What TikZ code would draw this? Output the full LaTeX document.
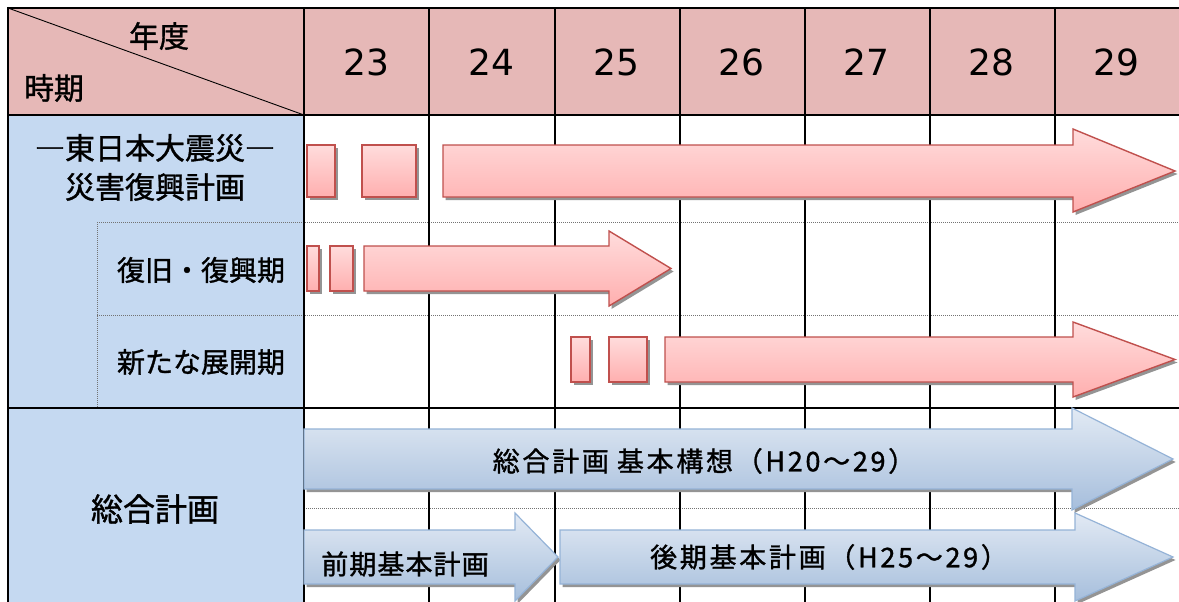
\documentclass[tikz,border=0pt]{standalone}
\usepackage{fontspec}
\setmainfont[FakeBold=1.2]{Noto Sans CJK JP}
\newfontfamily\jpwide[FakeBold=1.2,LetterSpace=10]{Noto Sans CJK JP}
\newfontfamily\jpmid[FakeBold=1.2,LetterSpace=4]{Noto Sans CJK JP}
\newfontfamily\numfont{DejaVu Sans}
\usetikzlibrary{shadows}
\definecolor{hdr}{HTML}{E6B8B7}
\definecolor{side}{HTML}{C5D9F1}
\definecolor{redline}{HTML}{C0504D}
\definecolor{redtop}{HTML}{FFDCDC}
\definecolor{redbot}{HTML}{FFAFAF}
\definecolor{blueline}{HTML}{95B3D7}
\definecolor{bluetop}{HTML}{E2EAF4}
\definecolor{bluebot}{HTML}{A6BEDC}
\begin{document}
\begin{tikzpicture}[x=1pt,y=-1pt,
  grid/.style={line width=2pt, black},
  dotline/.style={line width=0.9pt, black!55, dash pattern=on 1pt off 1pt},
  shade/.style={drop shadow={shadow xshift=2.5pt, shadow yshift=-3pt, fill=black!42, opacity=1}},
  redshape/.style={shade, draw=redline, line width=1.4pt, top color=redtop, bottom color=redbot},
  blueshape/.style={shade, draw=blueline, line width=1.2pt, top color=bluetop, bottom color=bluebot},
  lbl/.style={inner sep=0pt, font=\fontsize{30}{36}\selectfont},
  sublbl/.style={inner sep=0pt, font=\fontsize{28}{34}\selectfont},
  yearlbl/.style={inner sep=0pt, anchor=base, font=\numfont\fontsize{36}{42}\selectfont},
  arrowlbl/.style={inner sep=0pt, font=\jpwide\fontsize{27}{32}\selectfont}]
\useasboundingbox (0,0) rectangle (1179,602);
\fill[white] (0,0) rectangle (1179,602);
% fills
\fill[hdr] (8,8) rectangle (1185,115);
\fill[side] (8,115) rectangle (304,610);
% dotted lines
\draw[dotline] (97,222) -- (1185,222);
\draw[dotline] (97,315) -- (1185,315);
\draw[dotline] (97,222) -- (97,408);
\draw[dotline] (304,508) -- (1185,508);
% grid
\draw[grid] (7,8) -- (1185,8);
\draw[grid] (8,7) -- (8,610);
\draw[grid] (8,115) -- (1185,115);
\draw[grid] (8,408) -- (1185,408);
\foreach \x in {304,429,555,680,805,930,1055} {\draw[grid] (\x,8) -- (\x,610);}
\draw[line width=0.9pt] (8,8) -- (304,115);
% header text
\node[lbl] (nendo) at (159,36) {年度};
\node[lbl] (jiki) at (54,88) {時期};
\foreach \yr [count=\i from 0] in {23,24,25,26,27,28,29}
  {\node[yearlbl] (y\yr) at ({366.5+125*\i},75.5) {\yr};}
% left labels
\node[lbl] (shinsai) at (155,148) {―東日本大震災―};
\node[lbl] (saigai) at (155,187) {災害復興計画};
\node[sublbl] (fukkyu) at (201,270) {復旧・復興期};
\node[sublbl] (tenkai) at (201,362) {新たな展開期};
\node[font=\fontsize{32}{38}\selectfont, inner sep=0pt] (sogo) at (155,509) {総合計画};
% red row 1
\path[redshape] (307,145) rectangle (335,197);
\path[redshape] (362,145) rectangle (416,197);
\path[redshape] (443,145) -- (1073,145) -- (1073,129) -- (1175,171) -- (1073,212) -- (1073,197) -- (443,197) -- cycle;
% red row 2
\path[redshape] (307,246) rectangle (319,291);
\path[redshape] (330,246) rectangle (353,291);
\path[redshape] (364,246) -- (609,246) -- (609,231) -- (671,268.5) -- (609,306) -- (609,291) -- (364,291) -- cycle;
% red row 3
\path[redshape] (571,337) rectangle (590,382);
\path[redshape] (609,337) rectangle (647,382);
\path[redshape] (665,337) -- (1073,337) -- (1073,322) -- (1175,359.5) -- (1073,397) -- (1073,382) -- (665,382) -- cycle;
% blue arrows
\path[blueshape] (304,429) -- (1072,429) -- (1072,408) -- (1173,459) -- (1072,510) -- (1072,489) -- (304,489) -- cycle;
\path[blueshape] (304,530) -- (515,530) -- (515,513) -- (558,557) -- (515,601) -- (515,584) -- (304,584) -- cycle;
\path[blueshape] (560,530) -- (1075,530) -- (1075,513) -- (1173,557) -- (1075,601) -- (1075,584) -- (560,584) -- cycle;
\node[arrowlbl] (kihonkoso) at (704,461) {総合計画\hspace{0.3em}基本構想（H20～29）};
\node[inner sep=0pt, font=\jpmid\fontsize{27}{32}\selectfont] (zenki) at (405,564) {前期基本計画};
\node[arrowlbl] (koki) at (829,557) {後期基本計画（H25～29）};
\end{tikzpicture}
\end{document}
